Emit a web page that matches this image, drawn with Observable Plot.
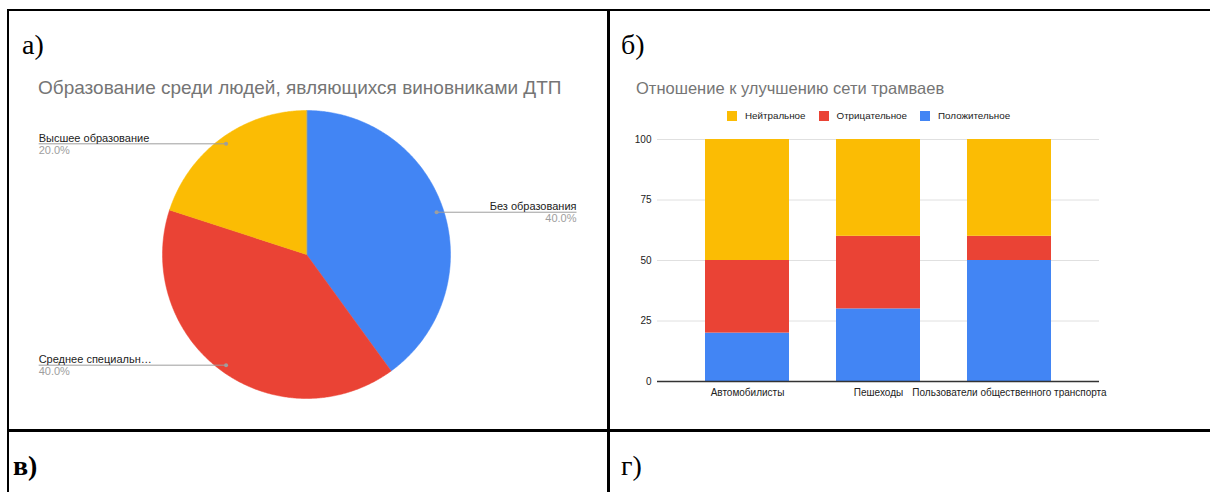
<!DOCTYPE html>
<html><head><meta charset="utf-8">
<script src="https://cdn.jsdelivr.net/npm/d3@7"></script>
<script src="https://cdn.jsdelivr.net/npm/@observablehq/plot@0.6"></script>
<style>
body{margin:0;width:1210px;height:492px;overflow:hidden;background:#fff;position:relative;font-family:"Liberation Sans",Arial,sans-serif;}
.ln{position:absolute;background:#000;}
.lbl{position:absolute;font-family:"Liberation Serif","Times New Roman",serif;font-size:28px;color:#000;line-height:1;white-space:nowrap;}
.ttl{position:absolute;color:#757575;white-space:nowrap;line-height:1;}
.abs{position:absolute;}
.lg-swatch{margin-right:13px !important;}
.lg-swatch svg{margin-right:8px !important;}
</style></head><body>
<div class="ln" style="left:7px;top:9px;width:1203px;height:2px"></div>
<div class="ln" style="left:7px;top:9px;width:2px;height:483px"></div>
<div class="ln" style="left:607px;top:9px;width:3px;height:483px"></div>
<div class="ln" style="left:7px;top:429px;width:1203px;height:3px"></div>
<div class="lbl" style="left:22px;top:31px">а)</div>
<div class="lbl" style="left:621px;top:31px">б)</div>
<div class="lbl" style="left:13px;top:452px;font-weight:bold">в)</div>
<div class="lbl" style="left:621px;top:452px">г)</div>
<div class="ttl" style="left:38px;top:78px;font-size:19px">Образование среди людей, являющихся виновниками ДТП</div>
<div class="ttl" style="left:636px;top:80px;font-size:16.5px">Отношение к улучшению сети трамваев</div>
<div id="pie" class="abs" style="left:0;top:0"></div>
<div id="legend" class="abs" style="left:727px;top:99px"></div>
<div id="bar" class="abs" style="left:610px;top:120px"></div>
<script>
// ---- Pie data ----
const pieLabels = ["Без образования", "Среднее специальн…", "Высшее образование"];
const pieValues = [40, 40, 20];
const pieColors = ["#4285F4", "#EA4335", "#FBBC04"];

// ---- Bar data ----
const groups = ["Автомобилисты", "Пешеходы", "Пользователи общественного транспорта"];
const seriesNames = ["Нейтральное", "Отрицательное", "Положительное"];
const seriesColors = ["#FBBC04", "#EA4335", "#4285F4"];
const neutral  = [50, 40, 40];
const negative = [30, 30, 10];
const positive = [20, 30, 50];
const yTicks = [0, 25, 50, 75, 100];

// ---- Pie ----
const total = d3.sum(pieValues);
const arcs = d3.pie().sort(null)(pieValues);
const sliceMarks = arcs.map((a, i) => {
  const pts = [{x: 0, y: 0}];
  const n = Math.max(2, Math.ceil((a.endAngle - a.startAngle) / (Math.PI / 360)));
  for (let k = 0; k <= n; k++) {
    const t = a.startAngle + (a.endAngle - a.startAngle) * k / n;
    pts.push({x: Math.sin(t), y: Math.cos(t)});
  }
  return Plot.line(pts, {x: "x", y: "y", fill: pieColors[i], stroke: pieColors[i], strokeWidth: 0.5, curve: "linear-closed"});
});
const labelData = arcs.map((a, i) => {
  const m = (a.startAngle + a.endAngle) / 2;
  const px = 0.95 * Math.sin(m), py = 0.95 * Math.cos(m);
  const right = px > 0;
  return {name: pieLabels[i], pct: (pieValues[i] / total * 100).toFixed(1) + "%",
          px, py, ex: right ? 1.875 : -1.86, right};
});
const rightLabels = labelData.filter(d => d.right);
const leftLabels = labelData.filter(d => !d.right);
const labelMarks = (data, anchor) => [
  Plot.text(data, {x: "ex", y: "py", text: "name", textAnchor: anchor, lineAnchor: "bottom", dy: -2, fontSize: 11, fill: "#222"}),
  Plot.text(data, {x: "ex", y: "py", text: "pct", textAnchor: anchor, lineAnchor: "top", dy: 2, fontSize: 11, fill: "#9e9e9e"})
];
const pie = Plot.plot({
  width: 608, height: 429,
  x: {domain: [-1, 1], range: [162, 450], axis: null},
  y: {domain: [-1, 1], range: [398, 110], axis: null},
  style: {fontFamily: '"Liberation Sans", Arial, sans-serif', background: "transparent"},
  marks: [
    ...sliceMarks,
    Plot.link(labelData, {x1: "px", y1: "py", x2: "ex", y2: "py", stroke: "#9e9e9e", strokeWidth: 1}),
    Plot.dot(labelData, {x: "px", y: "py", r: 2, fill: "#9e9e9e", stroke: null}),
    ...labelMarks(leftLabels, "start"),
    ...labelMarks(rightLabels, "end")
  ]
});
document.getElementById("pie").append(pie);

// ---- Bar ----
const rows = [];
groups.forEach((g, i) => {
  rows.push({group: g, series: "Положительное", value: positive[i]});
  rows.push({group: g, series: "Отрицательное", value: negative[i]});
  rows.push({group: g, series: "Нейтральное", value: neutral[i]});
});
const colorScale = {domain: seriesNames, range: seriesColors};
const legend = Plot.legend({color: colorScale, swatchSize: 10, className: "lg",
  style: {fontSize: "9.8px", fontFamily: '"Liberation Sans", Arial, sans-serif', color: "#222"}});
document.getElementById("legend").append(legend);

const bar = Plot.plot({
  width: 600, height: 290,
  marginLeft: 47, marginRight: 111, marginTop: 19, marginBottom: 29,
  style: {fontFamily: '"Liberation Sans", Arial, sans-serif', fontSize: "10px", color: "#222", background: "transparent"},
  x: {domain: groups, padding: 0.36, label: null, tickSize: 0, tickPadding: 7},
  y: {domain: [0, 100], ticks: yTicks, label: null, tickSize: 0, tickPadding: 6},
  color: colorScale,
  marks: [
    Plot.gridY(yTicks, {stroke: "#e0e0e0", strokeOpacity: 1}),
    Plot.barY(rows, {x: "group", y: "value", fill: "series", order: ["Положительное", "Отрицательное", "Нейтральное"]}),
    Plot.ruleY([0], {stroke: "#333", strokeWidth: 1.5})
  ]
});
document.getElementById("bar").append(bar);
</script>
</body></html>
